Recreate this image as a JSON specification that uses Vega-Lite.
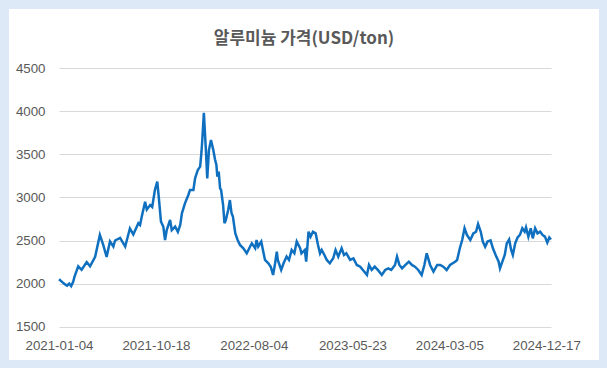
{
  "$schema": "https://vega.github.io/schema/vega-lite/v6.json",
  "width": 590,
  "height": 351,
  "autosize": {"type": "none"},
  "padding": {"left": 9, "top": 9, "right": 8, "bottom": 8},
  "background": "#dde9f6",
  "config": {
    "view": {"fill": "#ffffff", "stroke": null},
    "axis": {"labelFont": "Liberation Sans", "labelFontSize": 13.3, "labelColor": "#595959", "ticks": false, "tickSize": 0, "domain": false, "labelPadding": 0, "title": null}
  },
  "title": {
    "text": "알루미늄 가격(USD/ton)",
    "font": "Noto Sans CJK KR",
    "fontSize": 17,
    "fontWeight": "bold",
    "color": "#595959",
    "anchor": "middle",
    "baseline": "middle",
    "offset": -47
  },
  "data": {
    "values": [
      {"date": "2021-01-04", "price": 2050}, {"date": "2021-01-13", "price": 2020}, {"date": "2021-01-22", "price": 1990}, {"date": "2021-01-28", "price": 1975},
      {"date": "2021-02-03", "price": 2000}, {"date": "2021-02-09", "price": 1970}, {"date": "2021-02-15", "price": 2020}, {"date": "2021-02-19", "price": 2080},
      {"date": "2021-03-02", "price": 2200}, {"date": "2021-03-12", "price": 2160}, {"date": "2021-03-27", "price": 2250}, {"date": "2021-04-06", "price": 2200},
      {"date": "2021-04-21", "price": 2310}, {"date": "2021-05-05", "price": 2565}, {"date": "2021-05-15", "price": 2450}, {"date": "2021-05-25", "price": 2310},
      {"date": "2021-06-04", "price": 2490}, {"date": "2021-06-14", "price": 2430}, {"date": "2021-06-19", "price": 2500}, {"date": "2021-07-04", "price": 2530},
      {"date": "2021-07-19", "price": 2430}, {"date": "2021-08-02", "price": 2640}, {"date": "2021-08-12", "price": 2570}, {"date": "2021-08-27", "price": 2700},
      {"date": "2021-09-01", "price": 2680}, {"date": "2021-09-06", "price": 2777}, {"date": "2021-09-16", "price": 2950}, {"date": "2021-09-21", "price": 2860},
      {"date": "2021-10-01", "price": 2912}, {"date": "2021-10-07", "price": 2890}, {"date": "2021-10-15", "price": 3087}, {"date": "2021-10-22", "price": 3183},
      {"date": "2021-10-27", "price": 2980}, {"date": "2021-11-02", "price": 2720}, {"date": "2021-11-09", "price": 2660}, {"date": "2021-11-14", "price": 2506},
      {"date": "2021-11-19", "price": 2620}, {"date": "2021-11-29", "price": 2738}, {"date": "2021-12-04", "price": 2620}, {"date": "2021-12-14", "price": 2660},
      {"date": "2021-12-22", "price": 2600}, {"date": "2021-12-29", "price": 2680},
      {"date": "2022-01-03", "price": 2816}, {"date": "2022-01-12", "price": 2932}, {"date": "2022-01-22", "price": 3029}, {"date": "2022-01-27", "price": 3087},
      {"date": "2022-02-06", "price": 3087}, {"date": "2022-02-11", "price": 3222}, {"date": "2022-02-19", "price": 3319}, {"date": "2022-02-26", "price": 3358},
      {"date": "2022-03-02", "price": 3531}, {"date": "2022-03-04", "price": 3647}, {"date": "2022-03-09", "price": 3984}, {"date": "2022-03-15", "price": 3550},
      {"date": "2022-03-19", "price": 3222}, {"date": "2022-03-24", "price": 3550}, {"date": "2022-03-30", "price": 3667}, {"date": "2022-04-06", "price": 3550},
      {"date": "2022-04-11", "price": 3440}, {"date": "2022-04-15", "price": 3380}, {"date": "2022-04-18", "price": 3241}, {"date": "2022-04-22", "price": 3300},
      {"date": "2022-04-26", "price": 3106}, {"date": "2022-04-29", "price": 3087}, {"date": "2022-05-05", "price": 2912}, {"date": "2022-05-09", "price": 2700},
      {"date": "2022-05-13", "price": 2738}, {"date": "2022-05-20", "price": 2855}, {"date": "2022-05-25", "price": 2970}, {"date": "2022-05-30", "price": 2816},
      {"date": "2022-06-03", "price": 2777}, {"date": "2022-06-10", "price": 2584}, {"date": "2022-06-17", "price": 2506}, {"date": "2022-06-24", "price": 2448},
      {"date": "2022-07-04", "price": 2410}, {"date": "2022-07-14", "price": 2352}, {"date": "2022-07-24", "price": 2430}, {"date": "2022-07-29", "price": 2467},
      {"date": "2022-08-08", "price": 2410}, {"date": "2022-08-12", "price": 2506}, {"date": "2022-08-17", "price": 2430}, {"date": "2022-08-26", "price": 2487},
      {"date": "2022-09-01", "price": 2370}, {"date": "2022-09-06", "price": 2274}, {"date": "2022-09-16", "price": 2236}, {"date": "2022-09-23", "price": 2196},
      {"date": "2022-09-30", "price": 2100}, {"date": "2022-10-06", "price": 2236}, {"date": "2022-10-11", "price": 2370}, {"date": "2022-10-14", "price": 2274},
      {"date": "2022-10-24", "price": 2158}, {"date": "2022-10-31", "price": 2236}, {"date": "2022-11-09", "price": 2313}, {"date": "2022-11-16", "price": 2274},
      {"date": "2022-11-24", "price": 2390}, {"date": "2022-12-02", "price": 2352}, {"date": "2022-12-09", "price": 2487}, {"date": "2022-12-19", "price": 2410},
      {"date": "2022-12-23", "price": 2350},
      {"date": "2023-01-02", "price": 2390}, {"date": "2023-01-06", "price": 2254}, {"date": "2023-01-13", "price": 2602}, {"date": "2023-01-19", "price": 2545},
      {"date": "2023-01-26", "price": 2602}, {"date": "2023-02-03", "price": 2583}, {"date": "2023-02-10", "price": 2448}, {"date": "2023-02-16", "price": 2350},
      {"date": "2023-02-21", "price": 2390}, {"date": "2023-03-01", "price": 2332}, {"date": "2023-03-08", "price": 2274}, {"date": "2023-03-17", "price": 2236},
      {"date": "2023-03-27", "price": 2293}, {"date": "2023-04-03", "price": 2390}, {"date": "2023-04-11", "price": 2313}, {"date": "2023-04-21", "price": 2410},
      {"date": "2023-04-28", "price": 2332}, {"date": "2023-05-05", "price": 2352}, {"date": "2023-05-16", "price": 2274}, {"date": "2023-05-26", "price": 2293},
      {"date": "2023-06-05", "price": 2216}, {"date": "2023-06-15", "price": 2196}, {"date": "2023-06-23", "price": 2158}, {"date": "2023-07-05", "price": 2100},
      {"date": "2023-07-11", "price": 2216}, {"date": "2023-07-19", "price": 2158}, {"date": "2023-07-28", "price": 2196}, {"date": "2023-08-08", "price": 2150},
      {"date": "2023-08-18", "price": 2100}, {"date": "2023-08-28", "price": 2158}, {"date": "2023-09-06", "price": 2177}, {"date": "2023-09-15", "price": 2158},
      {"date": "2023-09-26", "price": 2216}, {"date": "2023-10-02", "price": 2313}, {"date": "2023-10-09", "price": 2216}, {"date": "2023-10-17", "price": 2177},
      {"date": "2023-10-27", "price": 2216}, {"date": "2023-11-06", "price": 2254}, {"date": "2023-11-15", "price": 2216}, {"date": "2023-11-24", "price": 2196},
      {"date": "2023-12-04", "price": 2158}, {"date": "2023-12-14", "price": 2100}, {"date": "2023-12-22", "price": 2216}, {"date": "2023-12-29", "price": 2352},
      {"date": "2024-01-08", "price": 2216}, {"date": "2024-01-18", "price": 2138}, {"date": "2024-01-29", "price": 2216}, {"date": "2024-02-07", "price": 2216},
      {"date": "2024-02-16", "price": 2196}, {"date": "2024-02-26", "price": 2158}, {"date": "2024-03-07", "price": 2216}, {"date": "2024-03-22", "price": 2254},
      {"date": "2024-03-28", "price": 2274}, {"date": "2024-04-05", "price": 2410}, {"date": "2024-04-12", "price": 2506}, {"date": "2024-04-19", "price": 2642},
      {"date": "2024-04-26", "price": 2565}, {"date": "2024-05-06", "price": 2506}, {"date": "2024-05-15", "price": 2583}, {"date": "2024-05-23", "price": 2602},
      {"date": "2024-05-29", "price": 2692}, {"date": "2024-06-06", "price": 2602}, {"date": "2024-06-12", "price": 2487}, {"date": "2024-06-19", "price": 2428},
      {"date": "2024-06-26", "price": 2487}, {"date": "2024-07-05", "price": 2500}, {"date": "2024-07-12", "price": 2410}, {"date": "2024-07-22", "price": 2313},
      {"date": "2024-07-29", "price": 2254}, {"date": "2024-08-02", "price": 2177}, {"date": "2024-08-09", "price": 2254}, {"date": "2024-08-16", "price": 2332},
      {"date": "2024-08-22", "price": 2467}, {"date": "2024-08-29", "price": 2512}, {"date": "2024-09-04", "price": 2390}, {"date": "2024-09-09", "price": 2332},
      {"date": "2024-09-16", "price": 2467}, {"date": "2024-09-23", "price": 2535}, {"date": "2024-09-30", "price": 2565}, {"date": "2024-10-07", "price": 2642},
      {"date": "2024-10-14", "price": 2602}, {"date": "2024-10-18", "price": 2652}, {"date": "2024-10-25", "price": 2545}, {"date": "2024-11-01", "price": 2642},
      {"date": "2024-11-07", "price": 2525}, {"date": "2024-11-14", "price": 2642}, {"date": "2024-11-21", "price": 2583}, {"date": "2024-11-29", "price": 2602},
      {"date": "2024-12-06", "price": 2565}, {"date": "2024-12-13", "price": 2545}, {"date": "2024-12-20", "price": 2475}, {"date": "2024-12-26", "price": 2535},
      {"date": "2024-12-31", "price": 2512}
    ]
  },
  "mark": {"type": "line", "color": "#1070c0", "strokeWidth": 2.5},
  "encoding": {
    "x": {
      "field": "date",
      "type": "temporal",
      "scale": {
        "type": "utc",
        "domain": [{"year": 2021, "month": 1, "date": 4, "utc": true}, {"year": 2024, "month": 12, "date": 31, "utc": true}],
        "range": [50, 542]
      },
      "axis": {
        "values": [
          {"year": 2021, "month": 1, "date": 4, "utc": true},
          {"year": 2021, "month": 10, "date": 18, "utc": true},
          {"year": 2022, "month": 8, "date": 4, "utc": true},
          {"year": 2023, "month": 5, "date": 23, "utc": true},
          {"year": 2024, "month": 3, "date": 5, "utc": true},
          {"year": 2024, "month": 12, "date": 17, "utc": true}
        ],
        "format": "%Y-%m-%d",
        "grid": false,
        "labelBaseline": "middle",
        "labelOverlap": false,
        "labelFlush": false,
        "offset": -15
      }
    },
    "y": {
      "field": "price",
      "type": "quantitative",
      "scale": {"domain": [1500, 4500], "range": [317.6, 59.3], "nice": false, "zero": false},
      "axis": {
        "values": [1500, 2000, 2500, 3000, 3500, 4000, 4500],
        "format": "d",
        "grid": true,
        "gridColor": "#d9d9d9",
        "gridWidth": 1,
        "offset": -36
      }
    }
  }
}
